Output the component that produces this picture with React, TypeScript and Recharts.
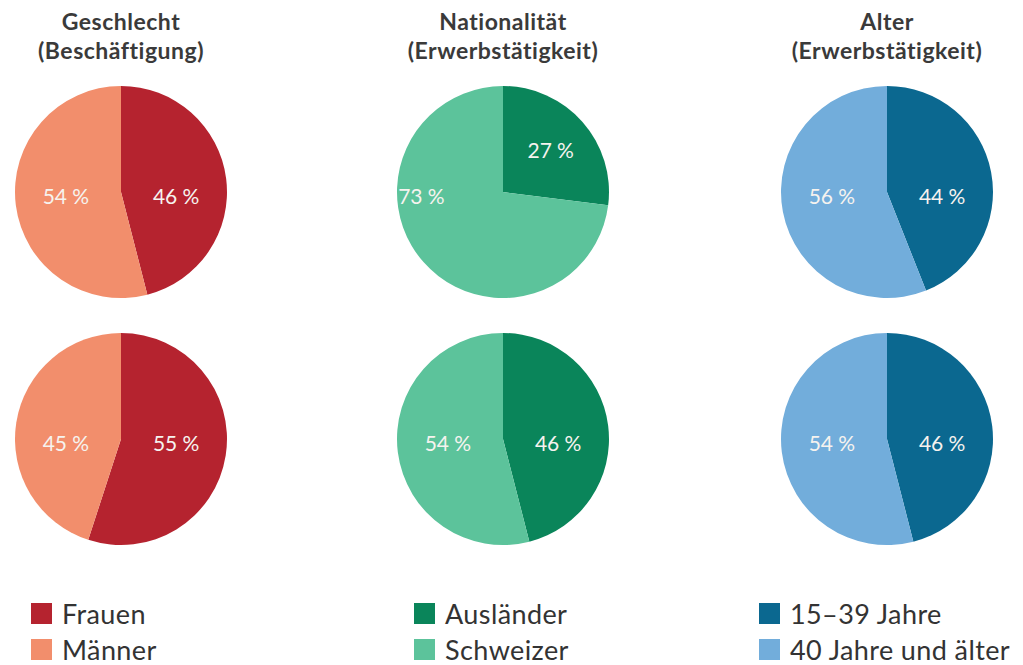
import React from 'react';
import { PieChart, Pie, Cell } from 'recharts';

// categories per panel
const genderNames = ['Frauen', 'Männer'];
const nationNames = ['Ausländer', 'Schweizer'];
const ageNames = ['15–39 Jahre', '40 Jahre und älter'];

// values (%), top row and bottom row
const genderTop = [46, 54];
const genderBottom = [55, 45];
const nationTop = [27, 73];
const nationBottom = [46, 54];
const ageTop = [44, 56];
const ageBottom = [46, 54];

const titleLines = [
    ['Geschlecht', '(Beschäftigung)'],
    ['Nationalität', '(Erwerbstätigkeit)'],
    ['Alter', '(Erwerbstätigkeit)'],
];

const genderColors = ['#b5232f', '#f28e6c'];
const nationColors = ['#0a855a', '#5cc39b'];
const ageColors = ['#0b6890', '#72addb'];

const FONT = 'Lato, "Noto Sans", sans-serif';
const RADIAN = Math.PI / 180;

const colX = [121, 503, 887];
const rowY = [192, 439];
const R = 106;

const toRows = (names: string[], values: number[]) => names.map((name, i) => ({ name, value: values[i] }));

const panels = [
    { names: genderNames, top: genderTop, bottom: genderBottom, colors: genderColors },
    { names: nationNames, top: nationTop, bottom: nationBottom, colors: nationColors },
    { names: ageNames, top: ageTop, bottom: ageBottom, colors: ageColors },
];

const renderLabel = (props: any) => {
    const { cx, cy, midAngle, outerRadius, percent, value } = props;
    const cos = Math.cos(-midAngle * RADIAN);
    const sin = Math.sin(-midAngle * RADIAN);
    let x: number;
    let y: number;
    if (percent < 0.35) {
        x = cx + outerRadius * 0.6 * cos;
        y = cy + outerRadius * 0.6 * sin;
    } else {
        const side = cos >= 0 ? 1 : -1;
        const dist = percent > 0.65 ? 0.77 : 0.52;
        x = cx + side * outerRadius * dist;
        y = cy + 3;
    }
    return (
        <text
            x={x}
            y={y}
            fill="#f6f3ef"
            textAnchor="middle"
            dominantBaseline="central"
            fontSize={21}
            fontFamily={FONT}
        >
            {`${value}\u202F%`}
        </text>
    );
};

const App: React.FC = () => {
    return (
        <div style={{ position: 'absolute', left: 0, top: 0, width: 1023, height: 665, background: '#fff', fontFamily: FONT }}>
            {titleLines.map((lines, i) => (
                <div
                    key={i}
                    style={{
                        position: 'absolute',
                        left: colX[i] - 150,
                        top: 7,
                        width: 300,
                        textAlign: 'center',
                        fontSize: 23,
                        lineHeight: '29px',
                        fontWeight: 700,
                        color: '#3a3a3a',
                        letterSpacing: 0.5,
                    }}
                >
                    {lines[0]}
                    <br />
                    {lines[1]}
                </div>
            ))}

            <div style={{ position: 'absolute', left: 0, top: 0 }}>
                <PieChart width={1023} height={570} margin={{ top: 0, right: 0, bottom: 0, left: 0 }}>
                    {panels.map((p, i) =>
                        [p.top, p.bottom].map((vals, j) => (
                            <Pie
                                key={`${i}-${j}`}
                                data={toRows(p.names, vals)}
                                dataKey="value"
                                nameKey="name"
                                cx={colX[i]}
                                cy={rowY[j]}
                                outerRadius={R}
                                startAngle={90}
                                endAngle={-270}
                                stroke="none"
                                label={renderLabel}
                                labelLine={false}
                                isAnimationActive={false}
                            >
                                {vals.map((_, k) => (
                                    <Cell key={k} fill={p.colors[k]} />
                                ))}
                            </Pie>
                        ))
                    )}
                </PieChart>
            </div>

            {panels.map((p, i) =>
                p.names.map((name, k) => (
                    <div
                        key={`${i}-${k}`}
                        style={{
                            position: 'absolute',
                            left: [31, 414, 759][i],
                            top: 597 + k * 36,
                            height: 32,
                            display: 'flex',
                            alignItems: 'center',
                            fontSize: 27,
                            letterSpacing: 0.4,
                            color: '#333',
                            whiteSpace: 'nowrap',
                        }}
                    >
                        <span style={{ width: 21, height: 21, background: p.colors[k], marginRight: 10, display: 'inline-block' }} />
                        {name}
                    </div>
                ))
            )}
        </div>
    );
};

export default App;
